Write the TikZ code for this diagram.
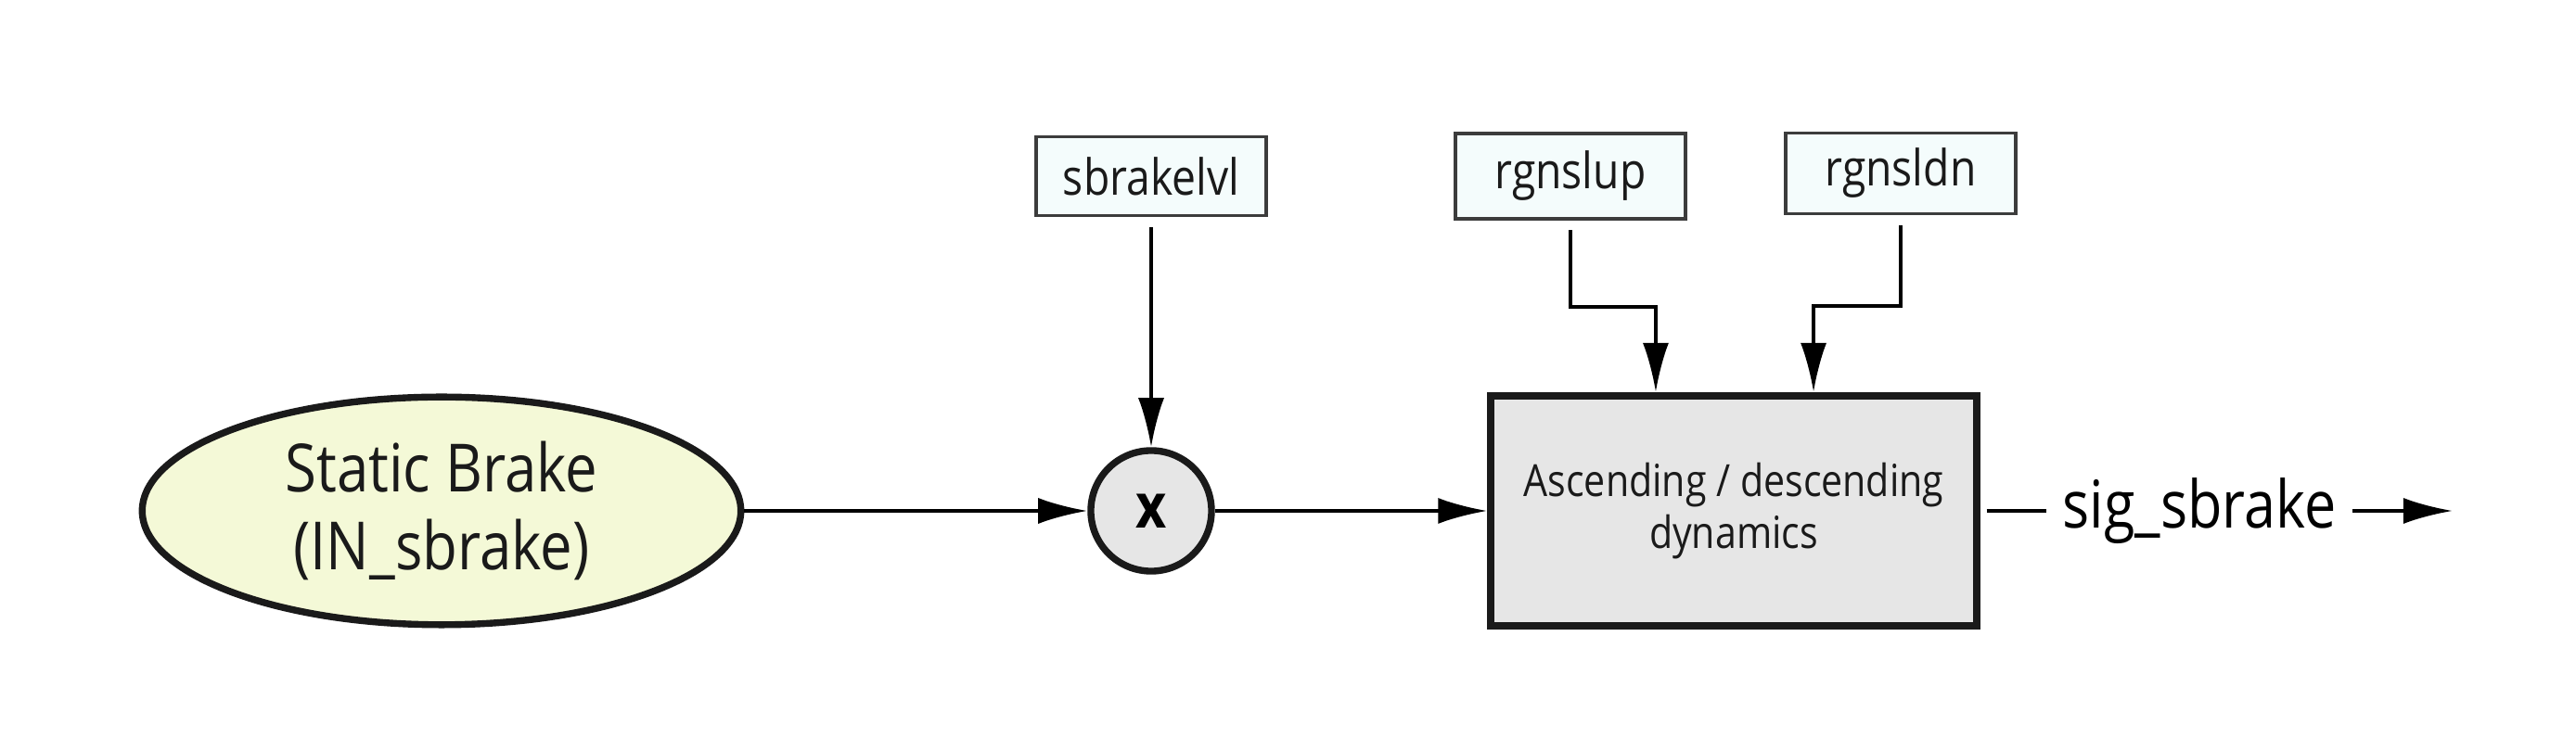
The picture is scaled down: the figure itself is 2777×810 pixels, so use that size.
\documentclass[tikz,border=0pt]{standalone}
\usepackage{fontspec}
\setmainfont{Open Sans}[FakeStretch=0.86]
\usepackage{tikz}
\usetikzlibrary{arrows.meta, positioning, shapes.geometric}
\usepackage{xcolor}

\definecolor{inyellow}{HTML}{F4F9D7}
\definecolor{parcyan}{HTML}{F4FCFC}
\definecolor{blockgray}{HTML}{E6E6E6}
\definecolor{edgedark}{HTML}{1A1A1A}

\tikzset{
  sig/.style={line width=1.05pt, -{Latex[length=0.53cm, width=0.28cm]}},
  wire/.style={line width=1.05pt},
  parbox/.style={draw=edgedark!85, line width=1pt, fill=parcyan, minimum width=2.48cm,
    text=edgedark, font=\fontsize{15.3}{18}\selectfont},
  inblob/.style={ellipse, draw=edgedark, line width=2.1pt, fill=inyellow, minimum width=6.45cm,
    minimum height=2.43cm, align=center, text=edgedark, font=\fontsize{20.4}{24}\selectfont},
}

\begin{document}
\begin{tikzpicture}[x=0.01cm, y=-0.01cm]
  \useasboundingbox (0,0) rectangle (2777,810);

  \node[inblob] (brake) at (476,551) {Static Brake\\(IN\_sbrake)};
  \node[circle, draw=edgedark, line width=2.1pt, fill=blockgray, minimum size=1.3cm,
    font=\bfseries\fontsize{19}{20}\selectfont] (mult) at (1241,551) {x};
  \node[parbox, minimum height=0.85cm] (lvl) at (1241,190) {sbrakelvl};
  \node[parbox, minimum height=0.92cm] (up)  at (1693,190) {rgnslup};
  \node[parbox, minimum height=0.87cm] (dn)  at (2049,187) {rgnsldn};
  \node[draw=edgedark, line width=2.3pt, fill=blockgray, minimum width=5.23cm, minimum height=2.48cm,
    align=center, text=edgedark, font=\fontsize{13.6}{16}\selectfont] (dyn) at (1869,551)
    {Ascending / descending\\dynamics};
  \node[inner sep=0.17cm, font=\fontsize{20.2}{23}\selectfont] (out) at (2371,551) {sig\_sbrake};
  \coordinate (end) at (2644,551);

  \draw[sig] (brake.east) -- (mult.west);
  \draw[sig, shorten <=3pt] (lvl.south) -- (mult.north);
  \draw[sig] (mult.east) -- (dyn.west);
  \draw[sig, shorten <=3pt] (up.south) -- ++(0,93) -| ([xshift=-0.84cm]dyn.north);
  \draw[sig, shorten <=3pt] (dn.south) -- ++(0,98) -| ([xshift=0.86cm]dyn.north);
  \draw[wire, shorten <=2pt] (dyn.east) -- (out.west);
  \draw[sig] (out.east) -- (end);
\end{tikzpicture}
\end{document}
